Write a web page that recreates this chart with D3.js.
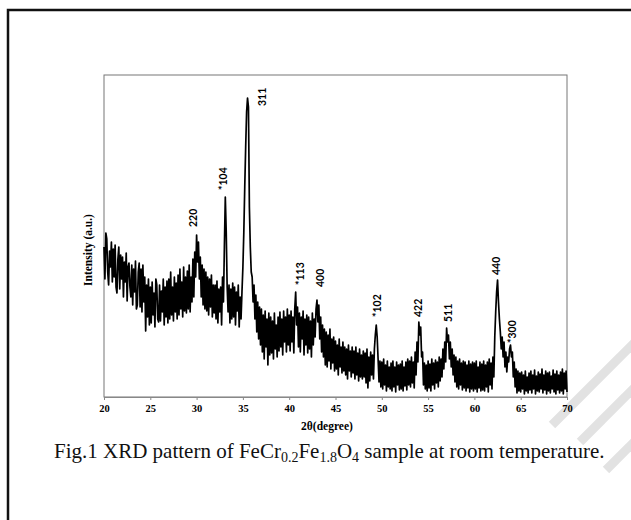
<!DOCTYPE html>
<html>
<head>
<meta charset="utf-8">
<script src="https://cdn.jsdelivr.net/npm/d3@7"></script>
<style>
body { margin:0; background:#fff; }
svg { display:block; }
</style>
</head>
<body>
<script>
// scan grid: 2theta from 20 to 70 deg, 0.1 deg step
var thetaStart = 20, thetaStep = 0.1;

// intensity (a.u.), one row per degree
var intensity = [
150,118,164,158,125,112,146,130,155,115,
148,120,152,110,104,138,150,108,142,118,
140,100,135,115,144,96,130,134,110,100,
132,92,128,105,136,88,92,125,134,90,
128,85,132,95,120,66,112,80,118,72,
110,74,115,82,104,70,118,112,78,75,
112,76,106,85,118,72,110,80,116,74,
118,78,125,82,110,76,120,85,114,78,
122,82,128,88,115,80,130,86,120,84,
126,88,132,85,120,95,138,100,145,120,
162,135,155,118,140,100,132,92,128,88,
125,86,120,82,118,90,122,80,112,84,
112,78,116,74,108,85,110,72,120,95,
150,200,165,110,85,112,74,108,78,114,
80,110,72,105,86,112,70,100,78,105,
130,165,210,250,285,299,290,190,150,125,
120,95,112,78,102,65,95,58,90,52,
88,45,82,38,86,50,78,32,84,42,
80,44,76,38,84,48,72,40,80,46,
85,50,78,42,86,55,80,45,88,52,
82,46,86,55,80,44,88,105,72,90,
50,84,45,80,58,86,42,78,52,82,
44,80,48,76,40,84,52,78,60,88,
97,75,92,58,80,45,72,40,68,32,
65,30,62,36,68,28,58,34,60,26,
56,28,52,22,58,30,50,24,55,26,
50,22,48,18,52,26,46,20,50,24,
46,18,50,22,44,16,48,20,42,18,
46,20,44,14,48,9,40,16,45,22,
42,18,48,62,72,60,38,15,36,10,
35,8,38,12,32,6,36,10,30,8,
34,6,36,10,30,5,35,12,32,7,
33,8,36,6,30,11,35,7,38,12,
36,10,40,14,35,9,45,22,55,35,
75,62,70,40,45,12,34,8,32,6,
36,9,33,6,38,12,34,8,37,14,
35,10,40,16,38,20,48,28,55,35,
69,55,62,38,55,30,48,22,42,15,
40,10,36,8,38,12,34,7,36,9,
35,6,32,9,36,5,33,8,35,6,
34,8,36,5,30,9,35,6,33,7,
36,6,32,10,35,5,38,12,34,8,
40,20,60,85,105,117,95,78,65,48,
60,40,55,30,45,25,40,35,48,52,
40,45,20,35,10,28,4,26,6,24,
5,25,8,22,3,26,6,20,4,24,
7,26,4,22,8,27,3,21,6,25,
5,23,8,28,4,22,7,26,3,24,
6,25,4,21,8,27,5,23,3,26,
7,22,4,25,6,28,3,24,8,26,
5
];

// reflection labels: hkl (and * for the second phase), 2theta and level of the label foot
var peakLabels = ["220","*104","311","*113","400","*102","422","511","440","*300"];
var peakLabelTheta = [29.61, 32.85, 37.06, 41.17, 43.33, 49.48, 53.91, 57.15, 62.33, 64.06];
var peakLabelLevel = [170, 207, 291, 112, 110, 80, 80, 75, 122, 54];

var xTicks = [20,25,30,35,40,45,50,55,60,65,70];

var w = 631, h = 520;

var svg = d3.select("body").append("svg")
    .attr("width", w)
    .attr("height", h);

// faint watermark in the lower right corner
var wm = svg.append("g")
    .attr("stroke", "#e2e2e2")
    .attr("stroke-width", 9)
    .attr("stroke-linecap", "butt");
wm.append("line").attr("x1",552).attr("y1",425).attr("x2",640).attr("y2",337);
wm.append("line").attr("x1",580).attr("y1",442).attr("x2",640).attr("y2",382);
wm.append("line").attr("x1",606).attr("y1",470).attr("x2",640).attr("y2",436);

// page frame
svg.append("rect")
    .attr("x", 8).attr("y", 10)
    .attr("width", 700).attr("height", 600)
    .attr("fill", "none")
    .attr("stroke", "#111")
    .attr("stroke-width", 2.5);

var x = d3.scaleLinear().domain([20, 70]).range([104, 567]);
var y = d3.scaleLinear().domain([0, 322]).range([397, 75]);

// plot frame
svg.append("rect")
    .attr("x", x(20)).attr("y", y(322))
    .attr("width", x(70) - x(20)).attr("height", y(0) - y(322))
    .attr("fill", "none")
    .attr("stroke", "#777")
    .attr("stroke-width", 1);

var xAxis = svg.append("g")
    .attr("transform", "translate(0," + y(0) + ")")
    .call(d3.axisBottom(x).tickValues(xTicks).tickSize(3).tickPadding(5).tickFormat(d3.format("d")));
xAxis.selectAll("path, line").attr("stroke", "#888");
xAxis.selectAll("text")
    .attr("fill", "#000")
    .style("font-family", "'Liberation Serif', 'Times New Roman', serif")
    .style("font-weight", "bold")
    .style("font-size", "10.5px");

var points = intensity.map(function(v, i) {
  return { t: thetaStart + i * thetaStep, v: v };
});

var line = d3.line()
    .x(function(d) { return x(d.t); })
    .y(function(d) { return y(d.v); });

svg.append("path")
    .datum(points)
    .attr("fill", "none")
    .attr("stroke", "#000")
    .attr("stroke-width", 1.7)
    .attr("stroke-linejoin", "round")
    .attr("d", line);

svg.selectAll(".peak")
    .data(peakLabels)
    .enter()
    .append("text")
    .attr("class", "peak")
    .attr("transform", function(d, i) {
      return "translate(" + x(peakLabelTheta[i]) + "," + y(peakLabelLevel[i]) + ") rotate(-90)";
    })
    .attr("dy", "0.35em")
    .style("font-family", "Lato, 'Liberation Sans', sans-serif")
    .style("font-weight", "bold")
    .style("font-size", "10.5px")
    .text(function(d) { return d; });

// axis titles
svg.append("text")
    .attr("x", 327).attr("y", 430)
    .attr("text-anchor", "middle")
    .style("font-family", "'Liberation Serif', 'Times New Roman', serif")
    .style("font-weight", "bold")
    .style("font-size", "11.5px")
    .text("2θ(degree)");

svg.append("text")
    .attr("transform", "translate(92,250) rotate(-90)")
    .attr("text-anchor", "middle")
    .style("font-family", "'Liberation Serif', 'Times New Roman', serif")
    .style("font-weight", "bold")
    .style("font-size", "11.5px")
    .text("Intensity (a.u.)");

// caption with subscripts
var cap = svg.append("text")
    .attr("x", 54).attr("y", 458)
    .style("font-family", "'Liberation Serif', 'Times New Roman', serif")
    .style("font-size", "21px")
    .attr("fill", "#111");
var capParts = [
  ["Fig.1 XRD pattern of FeCr", false], ["0.2", true], ["Fe", false], ["1.8", true],
  ["O", false], ["4", true], [" sample at room temperature.", false]
];
capParts.forEach(function(p, i) {
  var ts = cap.append("tspan").text(p[0]);
  if (p[1]) ts.style("font-size", "14px").attr("dy", 4);
  else if (i > 0 && capParts[i - 1][1]) ts.attr("dy", -4);
});
</script>
</body>
</html>
